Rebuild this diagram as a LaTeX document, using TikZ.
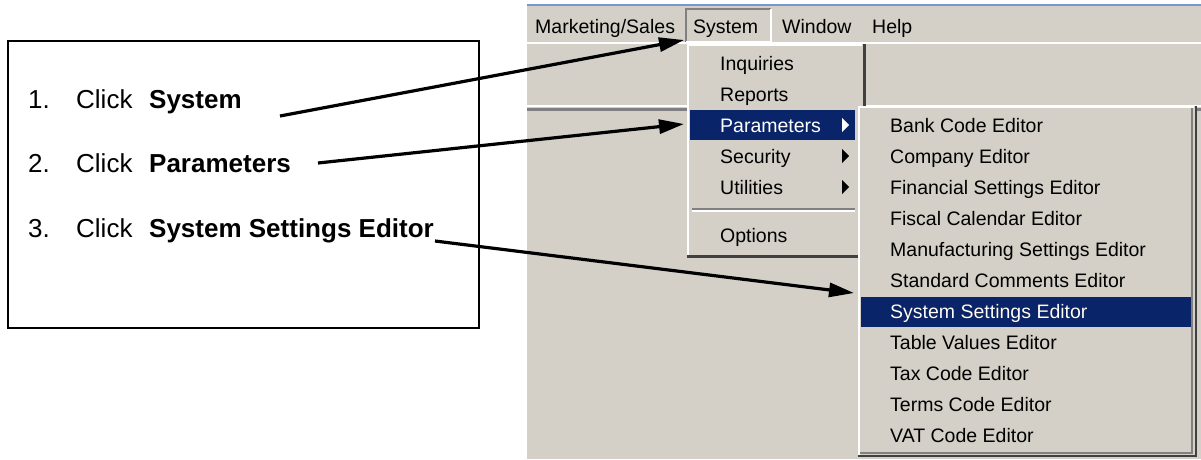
\documentclass[tikz,border=0pt]{standalone}
\usepackage{fontspec}
\setmainfont{Liberation Sans}
\usetikzlibrary{arrows.meta, calc, positioning}

\definecolor{winface}{RGB}{212,208,200}
\definecolor{winshadow}{RGB}{128,128,128}
\definecolor{windark}{RGB}{64,64,64}
\definecolor{winhilite}{RGB}{10,36,106}
\definecolor{wintitle}{RGB}{120,150,210}

\tikzset{
  steptext/.style={anchor=base west, inner sep=0pt, font=\fontsize{26}{30}\selectfont},
  menutext/.style={anchor=base west, inner sep=0pt, font=\fontsize{19.5}{22}\selectfont},
  callout/.style={line width=3.2pt, -{Triangle[length=25pt,width=14pt]}},
}

\begin{document}
\begin{tikzpicture}[x=1pt, y=-1pt]
        % one unit is one pixel, y grows downwards like in the screen grab
        \useasboundingbox (0,0) rectangle (1201,459);

        % The window behind the menus
        \fill[winface] (527,5) rectangle (1201,459);
        \draw[wintitle, line width=1.5pt] (527,5) -- (1201,5);
        \draw[white, line width=1.5pt] (527,43) -- (1201,43);
        % toolbar separator
        \draw[white, line width=1.5pt] (527,106) -- (1201,106);
        \draw[winshadow, line width=3pt] (527,109) -- (1201,109);

        % Menu bar
        \node[menutext] (mktg) at (535,33) {Marketing/Sales};
        \node[menutext] (system) at (693,33) {System};
        \node[menutext] (window) at (782,33) {Window};
        \node[menutext] (help) at (872,33) {Help};
        % System is pressed down
        \draw[winshadow, line width=1.5pt] (686,42) |- (771,9);
        \draw[white, line width=1.5pt] (686,42) -| (771,9);

        % The System drop down
        \fill[winface] (687,44) rectangle (866,258);
        \draw[white, line width=1.5pt] (688,256) |- (862,45);
        \draw[windark, line width=3pt] (687,256.5) -| (864.5,44);
        \fill[winhilite] (690,110) rectangle (855,140);
        \foreach \item/\col [count=\i from 0] in
            {Inquiries/black, Reports/black, Parameters/white, Security/black, Utilities/black}
            \node[menutext, text=\col] (dd\i) at (720,70+31*\i) {\item};
        % little submenu triangles
        \foreach \i/\col in {2/white, 3/black, 4/black}
            \fill[\col] (842,56+31*\i) -- (849,63+31*\i) -- (842,70+31*\i) -- cycle;
        \draw[winshadow, line width=1.5pt] (692,209) -- (855,209);
        \draw[white, line width=1.5pt] (692,211) -- (855,211);
        \node[menutext] (opts) at (720,242) {Options};

        % The Parameters submenu, drawn on top of the drop down
        \fill[winface] (858,106) rectangle (1197,457);
        \draw[white, line width=1.5pt] (859,456) |- (1194,107);
        \draw[winshadow, line width=1.5pt] (860,453) -| (1192,108);
        \draw[windark, line width=2.5pt] (858,456) -| (1196,106);
        \fill[winhilite] (861,297) rectangle (1191,327);
        \foreach \item [count=\i from 0] in
            {Bank Code Editor, Company Editor, Financial Settings Editor,
             Fiscal Calendar Editor, Manufacturing Settings Editor,
             Standard Comments Editor, System Settings Editor,
             Table Values Editor, Tax Code Editor, Terms Code Editor,
             VAT Code Editor}
            \node[menutext] (sub\i) at (890,132+31*\i) {\item};
        \node[menutext, text=white] at (sub6.base west) {System Settings Editor};

        % Steps box on the left
        \draw[line width=2pt] (8,41) rectangle (479,328);
        \foreach \y/\what [count=\i] in {108/System, 172/Parameters, 237/System Settings Editor} {
            \node[steptext] (num\i) at (28,\y) {\i.};
            \node[steptext] (click\i) at (76,\y) {Click};
            \node[steptext, font=\fontsize{26}{30}\selectfont\bfseries] (step\i) at (149,\y) {\what};
        }

        % Arrows from the steps to the menu entries
        \coordinate (from1) at (280,116);
        \coordinate (to1) at (684,40);
        \coordinate (from2) at (318,163);
        \coordinate (to2) at (684,124);
        \coordinate (from3) at (435,241);
        \coordinate (to3) at (854,293);
        \draw[callout] (from1) -- (to1);
        \draw[callout] (from2) -- (to2);
        \draw[callout] (from3) -- (to3);
\end{tikzpicture}
\end{document}
